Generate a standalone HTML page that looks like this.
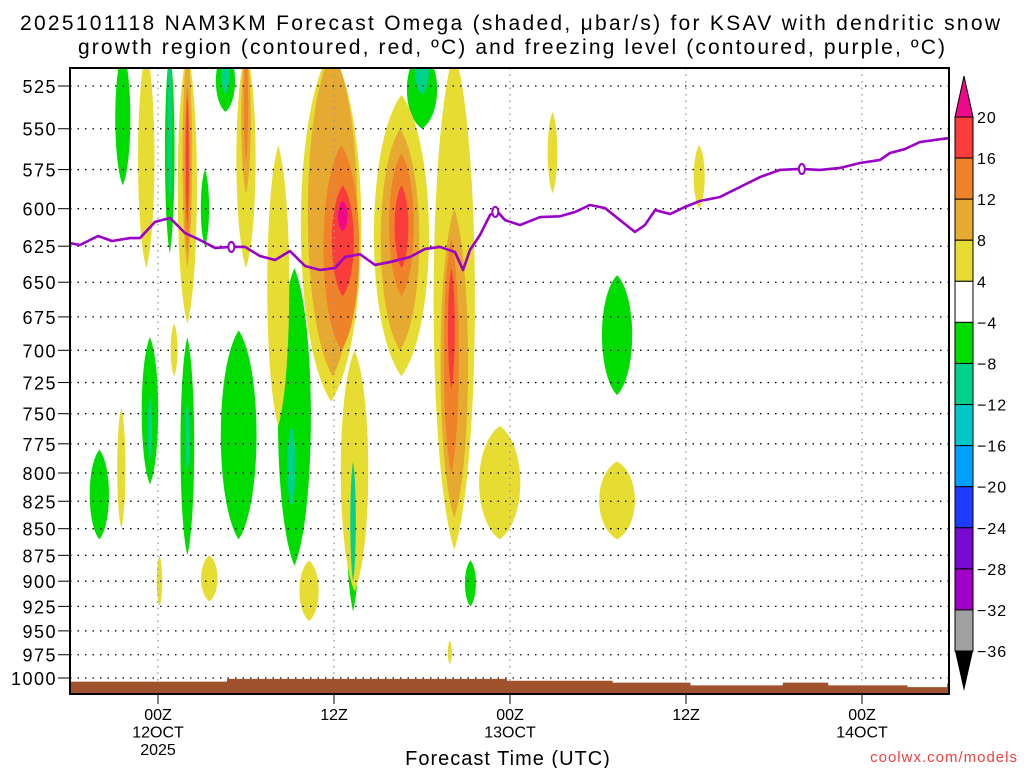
<!DOCTYPE html>
<html><head><meta charset="utf-8"><style>
body{margin:0;background:#fff;}
svg{display:block;font-family:"Liberation Sans",sans-serif;}
</style></head><body>
<svg id="chart" width="1024" height="768" viewBox="0 0 1024 768" xmlns="http://www.w3.org/2000/svg">
<text x="20" y="30" font-size="21" textLength="980" lengthAdjust="spacing">2025101118 NAM3KM Forecast Omega (shaded, μbar/s) for KSAV with dendritic snow</text>
<text x="78" y="54" font-size="21" textLength="867" lengthAdjust="spacing">growth region (contoured, red, ºC) and freezing level (contoured, purple, ºC)</text>
<g id="shade"></g>
<g id="grid"></g>
<g id="terrain"></g>
<g id="frz"></g>
<rect x="70" y="68" width="879" height="626" fill="none" stroke="#000" stroke-width="2"/>
<g id="yaxis"></g>
<g id="xaxis"></g>
<text x="508" y="765" font-size="20" text-anchor="middle" letter-spacing="1">Forecast Time (UTC)</text>
<text x="1018" y="762" font-size="15" fill="#f04040" text-anchor="end" letter-spacing="1">coolwx.com/models</text>
<g id="cbar"></g>
</svg>
<script>
// ---- data ----
const pressureTicks=[525,550,575,600,625,650,675,700,725,750,775,800,825,850,875,900,925,950,975,1000];
const timeTickHours=[0,12,24,36,48];
const timeTickLabels=[["00Z","12OCT","2025"],["12Z"],["00Z","13OCT"],["12Z"],["00Z","14OCT"]];
const cbarLevels=[20,16,12,8,4,-4,-8,-12,-16,-20,-24,-28,-32,-36];
const cbarColors=["#fa3c3c","#f0822a","#e6aa32","#e6dc32","#ffffff","#00dc00","#00d28c","#00c8c8","#00a0ff","#1e3cff","#780ad2","#a000c8","#a0a0a0"];
// blobs: [hour center, half-width hours, top hPa, bottom hPa, level]
const blobCenters=[-2.4,0.8,0.8,3.2,4.6,4.6,18.0,18.0,21.0,31.3,-4.0,-0.55,-0.55,2.0,2.0,5.5,9.3,9.1,13.3,13.3,21.3,
 -0.8,2.0,2.0,2.0,2.0,6.0,6.0,6.0,8.2,11.8,13.4,11.9,12.5,12.6,12.6,16.6,16.5,16.6,16.6,20.2,20.2,20.0,20.0,23.3,26.9,36.9,31.3,-2.5,0.1,3.5,10.3,1.1,19.9];
const blobHalfWidths=[0.55,0.35,0.15,0.3,0.7,0.3,1.1,0.5,0.3,1.1,0.7,0.6,0.15,0.5,0.15,1.3,1.2,0.3,0.5,0.2,0.4,
 0.6,0.7,0.35,0.2,0.1,0.7,0.35,0.15,0.8,2.2,1.0,1.8,1.3,0.8,0.35,2.0,1.4,0.9,0.5,1.5,1.0,0.55,0.25,1.5,0.35,0.4,1.3,0.3,0.2,0.6,0.7,0.25,0.15];
const blobTops=[505,505,505,575,505,505,505,505,555,645,780,690,735,690,740,685,640,760,745,790,880,
 505,505,505,525,530,505,505,505,560,505,700,505,560,585,595,530,550,565,585,505,600,620,640,760,540,560,790,745,875,875,880,680,960];
const blobBottoms=[585,630,600,625,540,530,550,530,645,735,860,810,790,875,800,860,885,830,930,900,925,
 640,680,640,630,610,640,590,570,760,740,910,720,700,660,615,720,700,660,640,870,840,800,730,860,590,600,860,850,925,920,940,720,985];
const blobLevels=[-1,-1,-2,-1,-1,-2,-1,-2,-1,-1,-1,-1,-2,-1,-2,-1,-1,-2,-1,-2,-1,
 1,1,2,3,4,1,2,3,1,1,1,2,3,4,5,1,2,3,4,1,2,3,4,1,1,1,1,1,1,1,1,1,1];
const frzHours=[-6,-5.32,-4.09,-3.14,-1.91,-1.23,-0.2,0.82,1.84,2.86,3.89,4.91,5.93,6.95,7.98,9,10.02,11.05,12.07,12.75,13.77,14.8,15.82,17.18,18.2,19.23,20.25,20.8,21.27,21.95,22.64,23.11,23.66,24.68,26.05,27.41,28.43,29.45,30.48,31.5,32.52,33.2,33.89,34.91,35.93,36.95,38.32,39.68,41.05,42.41,43.77,45.14,46.5,47.86,49.23,49.91,50.93,51.95,53.93];
const frzPress=[622.9,624.2,618.1,621.5,619.5,619.5,608.7,606.1,616.1,620.8,626.2,625.5,625.5,631.7,634.5,628.3,638.6,641.4,640,632.4,630.5,637.9,635.9,632.4,626.9,625.5,629,641.4,627.6,617.5,604.1,601.5,607.5,610.8,605.5,605,602.2,597.6,599.6,607.5,615.4,610.8,600.9,603.5,598.9,595,592.4,586,579.7,575.2,574.6,575.2,574,570.9,569,564.7,562.3,558,555.6];
const frzLabelHours=[5.0,23.0,43.9];
const sfcHours=[-6,4.7,23.8,31,36.3,42.6,45.7,51.1,53.8,54];
const sfcPress=[1004,1001,1003,1005,1008,1005,1008,1010,1006,1006];

// ---- axes ----
const X0=70,X1=949,Y0=68,Y1=694;
const xOf=h=>158+h*(176/12);
const K=592/Math.log(1000/525);
const yOf=p=>86+Math.log(p/525)*K;
const NS="http://www.w3.org/2000/svg";
function mk(tag,parent,attrs){const e=document.createElementNS(NS,tag);for(const k in attrs)e.setAttribute(k,attrs[k]);parent.appendChild(e);return e;}
const colorFor=l=>({1:"#e6dc32",2:"#e6aa32",3:"#f0822a",4:"#fa3c3c",5:"#f0088a","-1":"#00dc00","-2":"#00d28c"})[l];

const shade=document.getElementById('shade');
const cp=mk('clipPath',shade,{id:'pc'});
mk('rect',cp,{x:X0,y:Y0,width:X1-X0,height:Y1-Y0});
const sg=mk('g',shade,{'clip-path':'url(#pc)'});
const order=blobLevels.map((l,i)=>i).sort((a,b)=>Math.abs(blobLevels[a])-Math.abs(blobLevels[b]));
order.forEach(i=>{
  const cx=xOf(blobCenters[i]),hw=blobHalfWidths[i]*(176/12);
  const yt=yOf(blobTops[i]),yb=yOf(blobBottoms[i]),ym=(yt+yb)/2;
  const d=`M${cx},${yt} C${cx+hw*1.25},${yt+(ym-yt)*0.35} ${cx+hw*1.25},${yb-(yb-ym)*0.35} ${cx},${yb} C${cx-hw*1.25},${yb-(yb-ym)*0.35} ${cx-hw*1.25},${yt+(ym-yt)*0.35} ${cx},${yt}Z`;
  const e=mk('path',sg,{d:d,fill:colorFor(blobLevels[i])});
  
  
});

const grid=document.getElementById('grid');
const yaxis=document.getElementById('yaxis');
pressureTicks.forEach(p=>{
  const y=yOf(p);
  const l=mk('line',grid,{x1:X0,x2:X1,y1:y,y2:y,stroke:'#000','stroke-width':1.3,'stroke-dasharray':'1.5 6'});
  
  
  mk('line',yaxis,{x1:58,x2:70,y1:y,y2:y,stroke:'#000','stroke-width':1});
  const t=mk('text',yaxis,{x:57,y:y+7,'font-size':18,'text-anchor':'end','letter-spacing':1.5});
  t.textContent=p;
  
  
});
const xaxis=document.getElementById('xaxis');
timeTickHours.forEach((h,i)=>{
  const x=xOf(h);
  const l=mk('line',grid,{x1:x,x2:x,y1:Y0,y2:Y1,stroke:'#999','stroke-width':1.3,'stroke-dasharray':'1.5 5'});
  
  
  mk('line',xaxis,{x1:x,x2:x,y1:Y1,y2:Y1+10,stroke:'#000'});
  timeTickLabels[i].forEach((s,j)=>{
    const t=mk('text',xaxis,{x:x,y:720+j*17.5,'font-size':16,'text-anchor':'middle'});
    t.textContent=s;
    
    
  });
});

// terrain
const ter=document.getElementById('terrain');
let td=`M${X0},${Y1}`;
for(let i=0;i<sfcHours.length-1;i++){
  const xa=Math.max(X0,xOf(sfcHours[i])),xb=Math.min(X1,xOf(sfcHours[i+1])),y=yOf(sfcPress[i]);
  td+=` L${xa},${y} L${xb},${y}`;
}
td+=` L${X1},${Y1}Z`;
const tp=mk('path',ter,{d:td,fill:'#a0522d'});



// freezing line
const frz=document.getElementById('frz');
const pts=frzHours.map((h,i)=>`${xOf(h)},${yOf(frzPress[i])}`).join(' ');
const fl=mk('polyline',frz,{points:pts,fill:'none',stroke:'#9a00c8','stroke-width':2.6,'stroke-linejoin':'round'});


frzLabelHours.forEach(h=>{
  let j=0;for(let i=0;i<frzHours.length;i++)if(frzHours[i]<=h)j=i;
  const f=(h-frzHours[j])/(frzHours[j+1]-frzHours[j]);
  const p=frzPress[j]+f*(frzPress[j+1]-frzPress[j]);
  const e=mk('ellipse',frz,{cx:xOf(h),cy:yOf(p),rx:3,ry:5,fill:'#fff',stroke:'#9a00c8','stroke-width':2});
  
  
});

// colorbar
const cb=document.getElementById('cbar');
const CBX=955,CBW=18,CBT=117,CBH=(651-117)/13;
const tri1=mk('polygon',cb,{points:`${CBX},${CBT} ${CBX+CBW},${CBT} ${CBX+CBW/2},76`,fill:'#f0088a',stroke:'#000','stroke-width':1});


cbarColors.forEach((c,i)=>{
  const r=mk('rect',cb,{x:CBX,y:CBT+i*CBH,width:CBW,height:CBH,fill:c,stroke:'#000','stroke-width':1});
  
  
});
const bot=CBT+13*CBH;
const tri2=mk('polygon',cb,{points:`${CBX},${bot} ${CBX+CBW},${bot} ${CBX+CBW/2},691`,fill:'#000'});


cbarLevels.forEach((v,i)=>{
  const t=mk('text',cb,{x:977,y:CBT+i*CBH+6,'font-size':16,'letter-spacing':1});
  t.textContent=v<0?'\u2212'+(-v):v;
  
  
});
</script>
</body></html>
